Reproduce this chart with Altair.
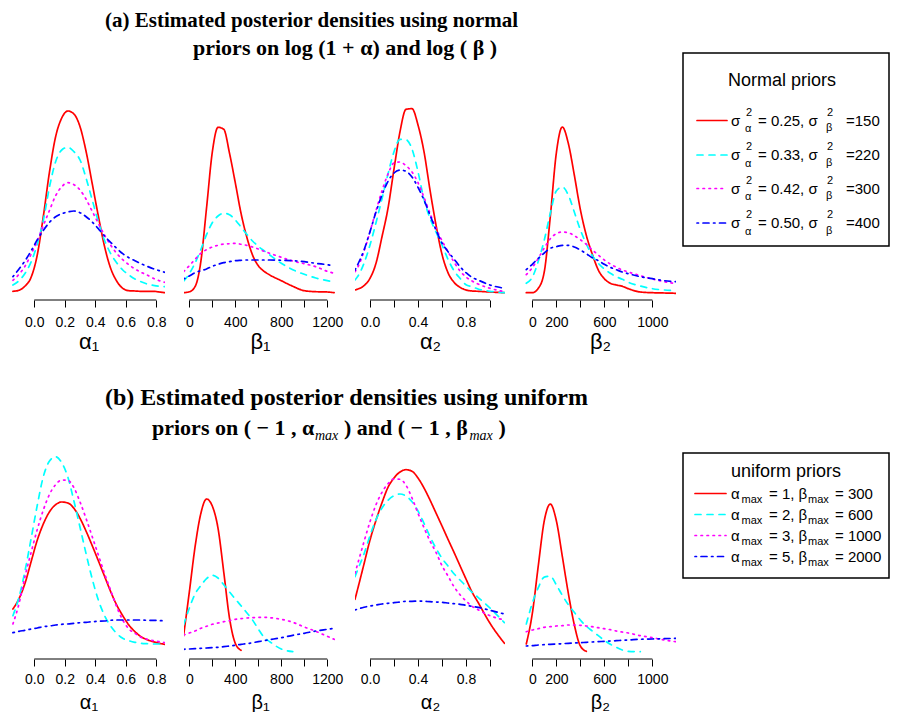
import altair as alt
import pandas as pd

SERIES = ["s1", "s2", "s3", "s4"]
COLORS = ["#FF0000", "#00FFFF", "#FF00FF", "#0000FF"]
DASHES = [[1, 0], [6, 6], [1.5, 4.5], [1.5, 4.5, 6, 4.5]]

# ---------------- row (a): normal priors (relative density)
a1_x = [-0.14, -0.10, -0.06, -0.02, 0.02, 0.06, 0.10, 0.14, 0.18, 0.22, 0.26, 0.30, 0.34,
        0.38, 0.42, 0.46, 0.50, 0.54, 0.58, 0.62, 0.66, 0.70, 0.74, 0.78, 0.82, 0.855]
a1_red = [8.7, 9.8, 14, 23, 45.3, 84.3, 128.3, 163.3, 182, 189, 186, 173.3, 148.3, 116.3, 84, 54,
          32, 19, 11.7, 9.3, 9, 8.7, 8.7, 8.7, 8, 7.3]
a1_cyan = [15, 19.3, 26.7, 38.3, 56, 80, 113.3, 138.3, 150, 152.7, 148.3, 140, 121.7, 100, 78.3, 60,
           46.7, 37.3, 30, 25, 21, 18.3, 16, 14.7, 13.7, 13.3]
a1_mag = [19.7, 25.7, 34, 46, 59.3, 74.7, 89.7, 104.3, 113.3, 117.3, 115.3, 110, 100.7, 88.7, 76.7,
          65, 55, 46.7, 40.3, 35.3, 31, 27.7, 25, 21.7, 19.3, 17.7]
a1_blue = [23.3, 31, 39.3, 49.3, 60.3, 69.7, 77.7, 83.3, 86.3, 88, 89, 87.3, 83.3, 78, 71.3, 64,
           57.7, 51.7, 46.3, 42.3, 39.3, 36.3, 33.7, 31.3, 29.3, 27.7]

a2_x = [-50, 0, 50, 100, 150, 200, 250, 300, 350, 400, 450, 500, 550, 600, 650, 700, 800, 900,
        1000, 1100, 1200, 1260]
a2_red = [7.3, 8.2, 13.3, 38, 92, 147.7, 172.7, 170.7, 146.7, 117.3, 86.7, 63, 45, 34.3, 28.7, 25,
          19.3, 13.7, 9.3, 8.3, 8, 7.3]
a2_cyan = [18.7, 26.3, 37, 50.3, 65.3, 77.3, 84, 86.7, 85.3, 80, 73, 65.7, 59, 53.7, 49.3, 45, 36.7,
           30.3, 25.7, 22, 19.3, 18]
a2_mag = [28.3, 34.3, 40.7, 46.7, 50.3, 53, 54.7, 56, 56.3, 56.7, 55.7, 54.7, 53, 51, 48.7, 46.7,
          42.7, 39, 36.3, 33.3, 28.7, 26.7]
a2_blue = [21, 24, 27.3, 29.3, 31, 33.7, 35.7, 37.3, 38.3, 39.3, 39.7, 40, 40, 40, 40, 40, 39.7,
           39.3, 38.3, 36.7, 35.3, 34.3]

a3_x = [-0.125, -0.1, -0.05, 0, 0.05, 0.1, 0.15, 0.2, 0.25, 0.3, 0.35, 0.4, 0.45, 0.5, 0.55, 0.6,
        0.65, 0.7, 0.75, 0.8, 0.85, 0.9, 1.0, 1.12]
a3_red = [10, 11, 14.3, 21.7, 36.7, 63.3, 91.7, 131, 168.3, 190.7, 191.3, 175, 148.3, 110, 75, 45.7,
          27.3, 17.7, 12.7, 10, 9, 8.7, 8, 7.3]
a3_cyan = [20, 24, 36.7, 55, 77.3, 101.3, 126, 148.3, 160.7, 160.3, 151, 128.3, 100.7, 81.7, 68, 55,
           40.7, 29.3, 21.7, 15.3, 13.3, 11, 8.7, 7.3]
a3_mag = [28.3, 33.3, 48.7, 68.3, 89.3, 109.3, 126, 137, 138, 134.3, 128, 117.3, 102.7, 86.7, 71.7,
          59.3, 48.3, 38, 29, 23, 19, 16, 11.7, 8.3]
a3_blue = [30, 36, 50, 68.3, 88, 105, 118.7, 127, 130, 128.7, 123, 112.7, 100, 85, 70, 57, 48.3, 41,
           33.3, 27.3, 22.7, 20, 15, 11.7]

a4_x = [-50, 0, 50, 100, 150, 200, 250, 300, 350, 400, 450, 500, 550, 600, 650, 700, 750, 800, 900,
        1000, 1100, 1195]
a4_red = [7.3, 7.3, 11.7, 28.3, 83.3, 146.7, 173, 156.7, 125, 90.7, 64.7, 45.7, 30, 21.3, 16.7, 15,
          13.7, 11.3, 8, 7.3, 7, 6.7]
a4_cyan = [16.7, 22.7, 38.7, 60, 86.7, 109, 113, 105, 88, 70.3, 56, 44.3, 36.7, 31, 26.7, 23.3, 20.7,
           17.7, 14, 11.3, 10, 9.3]
a4_mag = [25.3, 32.3, 41.7, 52, 61.3, 66.3, 68, 67.3, 64.3, 60.3, 55.7, 50, 45, 40, 36, 32.7, 30, 28,
          24.3, 21, 18.3, 16.3]
a4_blue = [30.3, 35.7, 41.7, 47, 51.7, 53.3, 54.7, 54.7, 53, 50, 46.3, 42.3, 39.3, 35.7, 32.7, 30.3,
           28, 26.3, 23.3, 21.3, 19.3, 18.3]

# ---------------- row (b): uniform priors
b1_x = a1_x
b1_red = [50, 60.3, 76, 97.7, 119, 135.3, 147.3, 154.3, 157, 156, 150.7, 140.7, 127.7, 113.3, 98.3,
          83, 67.7, 54, 43.3, 34, 27.3, 22.3, 19.3, 17.3, 15.7, 14.7]
b1_cyan = [43.3, 61.7, 88.7, 121, 154, 182.7, 198, 202.3, 196.3, 182, 158, 131.7, 105, 80, 59, 43.7,
           33, 25.7, 20.7, 18.3, 16.7, 15.7, 15.3, 15, 15, 15]
b1_mag = [35, 55.3, 83, 107, 129.7, 149.3, 164.7, 174.3, 179, 178.7, 171.3, 157, 140.3, 122.3, 104,
          85.7, 69, 52.3, 39, 30, 25.7, 21.7, 19.7, 18.3, 17.3, 16.3]
b1_blue = [26.3, 27.7, 28.7, 30, 31, 32.3, 33, 34, 34.7, 35, 35.7, 36.3, 36.7, 37.3, 37.7, 38, 38.7,
           39, 39, 39, 39, 39, 38.7, 38.7, 38.3, 38.3]

b2_x = a2_x
b2_red = [23, 66.7, 112, 145.3, 160, 153, 130.7, 86.7, 40.7, 15.7, 8.7] + [None] * 11
b2_cyan = [34, 50.7, 65, 73.3, 80.3, 83.7, 81, 74.3, 67, 60, 53.3, 46.3, 39, 30, 21.7, 17.3, 10,
           7.3] + [None] * 4
b2_mag = [24, 26, 28, 30.7, 32.7, 34.7, 36, 37.3, 38.3, 39.7, 40.3, 41, 41.3, 41.7, 41.7, 41.3, 39.7,
          36.7, 32, 27.7, 22.7, 19.7]
b2_blue = [9.7, 10, 10.3, 10.7, 11, 11.3, 11.7, 12.3, 13, 13.7, 14.7, 15.3, 16.3, 17.3, 18.3, 19.3,
           21.3, 23.7, 25.7, 28, 29.7, 30.7]

b3_x = a3_x
b3_red = [59.7, 71.3, 95, 119, 138.7, 156.3, 171.7, 181, 187, 189.3, 187.7, 181, 171, 159, 146, 133,
          119.7, 106.7, 93.3, 80, 67, 56.7, 35.7, 15.7]
b3_cyan = [82.3, 90, 105, 123.3, 139.3, 151, 158.7, 163.3, 165, 163, 157.3, 148, 135.7, 122.3, 110.7,
           100.7, 93, 85.3, 79, 73, 66.7, 61.7, 51, 36.3]
b3_mag = [85.7, 96.3, 117.3, 137.3, 154.3, 166.7, 175.3, 180, 179.7, 173.7, 161, 145.7, 131.3, 118,
          106.7, 93.3, 83, 72.3, 64.3, 58, 52.7, 49.3, 43.3, 39]
b3_blue = [49, 50, 51.7, 53, 54, 55, 55.7, 56.3, 57, 57.7, 57.7, 58, 57.7, 57.3, 57, 56.7, 56, 55.3,
           54.7, 53.7, 52.7, 51.7, 48.7, 45]

b4_x = a4_x
b4_red = [15, 45.3, 93.3, 138.3, 154.9, 138.5, 102.7, 65.9, 34.2, 13.1, 7.7] + [None] * 11
b4_cyan = [35, 55.7, 71.3, 81.9, 82.7, 74.2, 63.7, 54.3, 46.7, 39, 32.7, 28, 23.3, 18.7, 14.7, 11.7,
           9, 7.7, 7.3] + [None] * 3
b4_mag = [27.3, 29, 30.3, 31.7, 32.3, 33, 33.3, 34, 34, 33.7, 33, 32.3, 31.3, 30.3, 29.3, 28, 27, 26,
          23.3, 21.3, 19, 17.3]
b4_blue = [13, 13.3, 14, 14.3, 14.7, 15, 15.3, 15.7, 16, 16.3, 16.7, 17, 17.3, 17.7, 18, 18.3, 18.7,
           19, 19.7, 20, 20.3, 20.7]

# ---------------- ticks and labels
TICK_AL1 = [0, 0.2, 0.4, 0.6, 0.8]
LAB_AL1 = [0, 0.2, 0.4, 0.6, 0.8]
TICK_BE1 = [0, 200, 400, 600, 800, 1000, 1200]
LAB_BE1 = [0, 400, 800, 1200]
TICK_AL2 = [0, 0.2, 0.4, 0.6, 0.8, 1.0]
LAB_AL2 = [0, 0.4, 0.8]
TICK_BE2 = [0, 200, 400, 600, 800, 1000]
LAB_BE2 = [0, 200, 600, 1000]

TITLE_A1 = "(a) Estimated posterior densities using normal"
TITLE_A2 = "priors on log (1 + α) and log ( β )"
TITLE_B1 = "(b) Estimated posterior densities using uniform"
TITLE_B2_PARTS = ["priors on ( − 1 , α", "max", ") and ( − 1 , β", "max", ")"]

LEG_A_TITLE = "Normal priors"
SIG_A = ["0.25", "0.33", "0.42", "0.50"]
SIG_B = ["150", "220", "300", "400"]
LEG_B_TITLE = "uniform priors"
AMAX = ["1", "2", "3", "5"]
BMAX = ["300", "600", "1000", "2000"]

SANS = "Liberation Sans"
SERIF = "Liberation Serif"


def make_axis(ticks, labeled, fmt, title, lpad, tsize, tpad):
    lab = ",".join(str(v) for v in labeled)
    expr = f"indexof([{lab}], datum.value) >= 0 ? format(datum.value, '{fmt}') : ''"
    return alt.Axis(values=ticks, labelExpr=expr, title=title, domain=False, grid=False,
                    tickSize=7, tickColor="black", tickWidth=1, labelFontSize=14,
                    labelFont=SANS, labelColor="black", labelPadding=lpad, labelFlush=False,
                    labelOverlap=False, titleFont=SANS, titleFontSize=tsize,
                    titleFontWeight="normal", titleColor="black", titlePadding=tpad)


def panel(xs, ys_list, xdom, w, h, ytop, ticks, labeled, fmt, title, lpad, tsize, tpad):
    rows = []
    for name, ys in zip(SERIES, ys_list):
        for x, y in zip(xs, ys):
            if y is not None:
                rows.append({"x": x, "v": y, "s": name})
    df = pd.DataFrame(rows)
    axis = make_axis(ticks, labeled, fmt, title, lpad, tsize, tpad)
    xscale = alt.Scale(domain=xdom, nice=False, zero=False)
    lines = alt.Chart(df).mark_line(strokeWidth=1.7, clip=True, interpolate="monotone",
                                    strokeCap="round").encode(
        x=alt.X("x:Q", scale=xscale, axis=axis),
        y=alt.Y("v:Q", scale=alt.Scale(domain=[0, ytop], nice=False), axis=None),
        color=alt.Color("s:N", scale=alt.Scale(domain=SERIES, range=COLORS), legend=None),
        strokeDash=alt.StrokeDash("s:N", scale=alt.Scale(domain=SERIES, range=DASHES),
                                  legend=None),
    )
    rule = alt.Chart(pd.DataFrame({"x": [ticks[0]], "x2": [ticks[-1]]})).mark_rule(
        color="black", strokeWidth=1).encode(
        x=alt.X("x:Q", scale=xscale, axis=axis), x2="x2:Q", y=alt.value(h))
    return alt.layer(lines, rule).properties(width=w, height=h)


def text_layer(txt, x, y, size, font=SANS, weight="normal", align="left", style="normal"):
    return alt.Chart(pd.DataFrame({"t": [txt]})).mark_text(
        align=align, baseline="alphabetic", fontSize=size, font=font, fontWeight=weight,
        fontStyle=style, color="black").encode(text="t:N", x=alt.value(x), y=alt.value(y))


def spacer(w, h):
    return alt.Chart(pd.DataFrame({"t": [""]})).mark_text().encode(
        text="t:N").properties(width=w, height=h)


W = [153, 152, 150, 152]
GAP = 19
DOM1 = [-0.146, 0.857]
DOM2 = [-46, 1276]
DOM3 = [-0.125, 1.125]
DOM4 = [-69, 1197]

HA, YA = 196, 196
HB, YB = 211, 211
H_TA, H_TB = 96, 148

# page positions used to place the legend column
X0 = 12
LEG_X0 = X0 + sum(W) + 4 * GAP      # 695
BOX_L, BOX_R = 683, 889
LW = BOX_R - LEG_X0
ROWA_TOP = 8 + H_TA
ROWB_TOP = ROWA_TOP + HA + H_TB


def legend_panel(kind):
    pieces, samples, boxes = [], [], []
    o = LEG_X0
    if kind == "a":
        top = ROWA_TOP
        boxes.append({"px": BOX_L - o, "px2": BOX_R - o, "py": 53 - top, "py2": 246 - top})
        head = (LEG_A_TITLE, 782 - o, 86 - top)
        for i, b in enumerate([125.5, 160, 193.5, 228]):
            b = b - top
            pieces += [
                {"px": 731 - o, "py": b, "t": "σ", "fs": 15},
                {"px": 746 - o, "py": b - 10, "t": "2", "fs": 11},
                {"px": 745 - o, "py": b + 6.5, "t": "α", "fs": 11},
                {"px": 758 - o, "py": b, "t": f"= {SIG_A[i]}, σ", "fs": 15},
                {"px": 827 - o, "py": b - 10, "t": "2", "fs": 11},
                {"px": 826 - o, "py": b + 5.5, "t": "β", "fs": 11},
                {"px": 846 - o, "py": b, "t": f"={SIG_B[i]}", "fs": 15},
            ]
            samples.append({"px": 697 - o, "px2": 727 - o, "py": b - 5, "s": SERIES[i]})
        h = HA
    else:
        top = ROWB_TOP
        boxes.append({"px": BOX_L - o, "px2": BOX_R - o, "py": 453 - top, "py2": 578 - top})
        head = (LEG_B_TITLE, 786 - o, 477 - top)
        for i, b in enumerate([499, 520, 541, 562]):
            b = b - top
            pieces += [
                {"px": 731 - o, "py": b, "t": "α", "fs": 15},
                {"px": 741.5 - o, "py": b + 4, "t": "max", "fs": 11},
                {"px": 769 - o, "py": b, "t": f"= {AMAX[i]}, β", "fs": 15},
                {"px": 808 - o, "py": b + 4, "t": "max", "fs": 11},
                {"px": 835 - o, "py": b, "t": f"= {BMAX[i]}", "fs": 15},
            ]
            samples.append({"px": 695 - o, "px2": 726 - o, "py": b - 5.5, "s": SERIES[i]})
        h = HB

    leg_text = alt.Chart(pd.DataFrame(pieces)).mark_text(
        align="left", baseline="alphabetic", font=SANS, color="black").encode(
        x=alt.X("px:Q", scale=None), y=alt.Y("py:Q", scale=None),
        text="t:N", size=alt.Size("fs:Q", scale=None, legend=None))
    leg_lines = alt.Chart(pd.DataFrame(samples)).mark_rule(
        strokeWidth=1.7, strokeCap="round").encode(
        x=alt.X("px:Q", scale=None), x2="px2:Q", y=alt.Y("py:Q", scale=None),
        color=alt.Color("s:N", scale=alt.Scale(domain=SERIES, range=COLORS), legend=None),
        strokeDash=alt.StrokeDash("s:N", scale=alt.Scale(domain=SERIES, range=DASHES),
                                  legend=None))
    leg_box = alt.Chart(pd.DataFrame(boxes)).mark_rect(
        fillOpacity=0, stroke="black", strokeWidth=1.5).encode(
        x=alt.X("px:Q", scale=None), x2="px2:Q", y=alt.Y("py:Q", scale=None), y2="py2:Q")
    htxt = text_layer(head[0], head[1], head[2], 18, align="center")
    return alt.layer(leg_box, leg_lines, leg_text, htxt).properties(width=LW, height=h)


titleA = alt.layer(
    text_layer(TITLE_A1, 93, 19, 21, SERIF, "bold"),
    text_layer(TITLE_A2, 181, 47, 22, SERIF, "bold"),
).properties(width=W[0], height=H_TA)

tb = TITLE_B2_PARTS
titleB = alt.layer(
    text_layer(TITLE_B1, 93, 105, 24, SERIF, "bold"),
    text_layer(tb[0], 140, 135, 22, SERIF, "bold"),
    text_layer(tb[1], 303, 140, 14, SERIF, "normal", style="italic"),
    text_layer(tb[2], 332, 135, 22, SERIF, "bold"),
    text_layer(tb[3], 457.5, 140, 14, SERIF, "normal", style="italic"),
    text_layer(tb[4], 486.5, 135, 22, SERIF, "bold"),
).properties(width=W[0], height=H_TB)

cells = [
    titleA, spacer(W[1], H_TA), spacer(W[2], H_TA), spacer(W[3], H_TA), spacer(LW, H_TA),
    panel(a1_x, [a1_red, a1_cyan, a1_mag, a1_blue], DOM1, W[0], HA, YA, TICK_AL1, LAB_AL1, ".1f", "α₁", 8, 22, 2),
    panel(a2_x, [a2_red, a2_cyan, a2_mag, a2_blue], DOM2, W[1], HA, YA, TICK_BE1, LAB_BE1, "d", "β₁", 8, 22, 2),
    panel(a3_x, [a3_red, a3_cyan, a3_mag, a3_blue], DOM3, W[2], HA, YA, TICK_AL2, LAB_AL2, ".1f", "α₂", 8, 22, 2),
    panel(a4_x, [a4_red, a4_cyan, a4_mag, a4_blue], DOM4, W[3], HA, YA, TICK_BE2, LAB_BE2, "d", "β₂", 8, 22, 2),
    legend_panel("a"),
    titleB, spacer(W[1], H_TB), spacer(W[2], H_TB), spacer(W[3], H_TB), spacer(LW, H_TB),
    panel(b1_x, [b1_red, b1_cyan, b1_mag, b1_blue], DOM1, W[0], HB, YB, TICK_AL1, LAB_AL1, ".1f", "α₁", 6, 20, 6),
    panel(b2_x, [b2_red, b2_cyan, b2_mag, b2_blue], DOM2, W[1], HB, YB, TICK_BE1, LAB_BE1, "d", "β₁", 6, 20, 6),
    panel(b3_x, [b3_red, b3_cyan, b3_mag, b3_blue], DOM3, W[2], HB, YB, TICK_AL2, LAB_AL2, ".1f", "α₂", 6, 20, 6),
    panel(b4_x, [b4_red, b4_cyan, b4_mag, b4_blue], DOM4, W[3], HB, YB, TICK_BE2, LAB_BE2, "d", "β₂", 6, 20, 6),
    legend_panel("b"),
]

chart = alt.concat(*cells, columns=5, spacing={"row": 0, "column": GAP}, bounds="flush").properties(
    padding={"left": 4, "top": 0, "right": 0, "bottom": 0}
).configure(font=SANS).configure_view(stroke=None, strokeWidth=0)

chart.save("out.html", embed_options={"renderer": "svg", "actions": False})
